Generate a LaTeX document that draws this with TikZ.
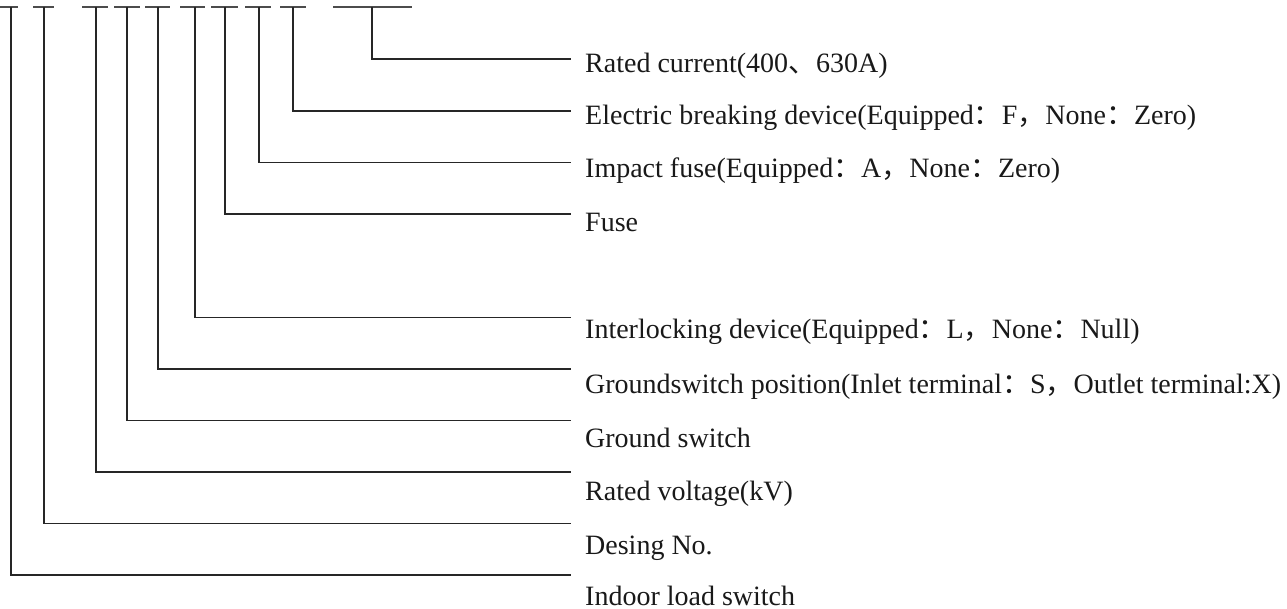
\documentclass[tikz,border=0pt]{standalone}
\usepackage{fontspec}
\setmainfont{Liberation Serif}
\newfontfamily\cjk{Noto Sans CJK SC}
\newcommand{\fc}{{\cjk ：}}
\newcommand{\fm}{{\cjk ，}}
\newcommand{\fd}{{\cjk 、}}
\begin{document}
\begin{tikzpicture}[x=1pt,y=-1pt,
  lead/.style={line width=1.1pt, draw=black!85},
  bar/.style={line width=1.1pt, draw=black!70},
  lbl/.style={anchor=base west, inner sep=0pt, font=\fontsize{28}{30}\selectfont, text=black!90}]
\useasboundingbox (0,0) rectangle (1287,609);
% top blanks of the model code
\foreach \a/\b [count=\i] in {0/18,33/54,82/108,114/140,145/170,180/205,211/238,245/271,280/306,333/412}
  \draw[bar] (\a,7) -- (\b,7);
% tap points on the bar
\coordinate (t0) at (372,7);
\coordinate (t1) at (293,7);
\coordinate (t2) at (259,7);
\coordinate (t3) at (225,7);
\coordinate (t5) at (195,7);
\coordinate (t6) at (158,7);
\coordinate (t7) at (127,7);
\coordinate (t8) at (96,7);
\coordinate (t9) at (44,7);
\coordinate (t10) at (11,7);
% line ends
\coordinate (e0) at (571,59);
\coordinate (e1) at (571,111);
\coordinate (e2) at (571,162.5);
\coordinate (e3) at (571,214);
\coordinate (e5) at (571,317.5);
\coordinate (e6) at (571,369);
\coordinate (e7) at (571,420.5);
\coordinate (e8) at (571,472);
\coordinate (e9) at (571,523.5);
\coordinate (e10) at (571,575);
% labels
\node[lbl] (l0) at (585,73) {Rated current(400\fd 630A)};
\node[lbl] (l1) at (585,125) {Electric breaking device(Equipped\fc F\fm None\fc Zero)};
\node[lbl] (l2) at (585,178) {Impact fuse(Equipped\fc A\fm None\fc Zero)};
\node[lbl] (l3) at (585,232) {Fuse};
\node[lbl] (l5) at (585,339) {Interlocking device(Equipped\fc L\fm None\fc Null)};
\node[lbl] (l6) at (585,393) {Groundswitch position(Inlet terminal\fc S\fm Outlet terminal:X)};
\node[lbl] (l7) at (585,447) {Ground switch};
\node[lbl] (l8) at (585,500) {Rated voltage(kV)};
\node[lbl] (l9) at (585,554) {Desing No.};
\node[lbl, text depth=0pt] (l10) at (585,605) {Indoor load switch};
% leaders
\foreach \k in {0,1,2,3,5,6,7,8,9,10}
  \draw[lead] (t\k) |- (e\k);
\end{tikzpicture}
\end{document}
